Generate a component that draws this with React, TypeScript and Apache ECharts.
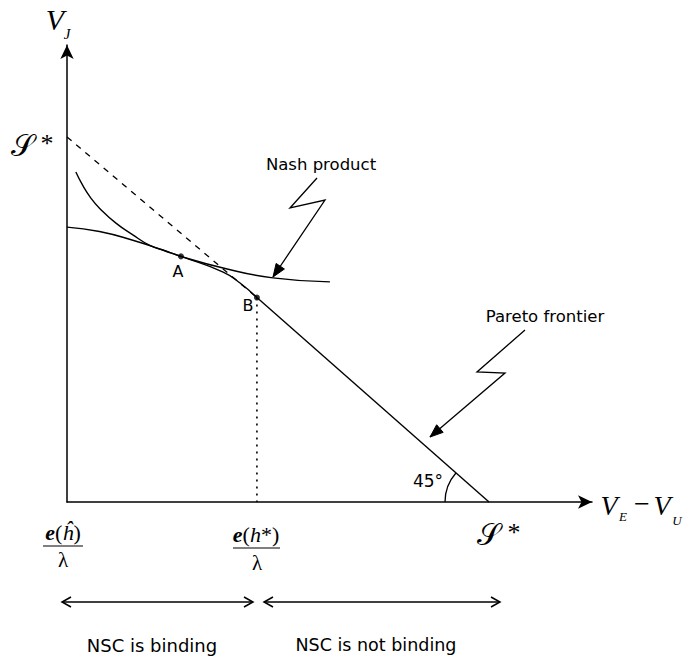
import React, { useEffect, useRef } from 'react';
import * as echarts from 'echarts';

// Pareto frontier (curved part, from the V_J axis to point B)
const paretoCurveX = [0, 7.7, 15.6, 23.5, 27.0, 37.0, 41.0, 45.0];
const paretoCurveY = [75.3, 74.1, 71.7, 68.7, 67.3, 63.0, 60.0, 56.0];
// Pareto frontier (45° straight part, from B to S*)
const paretoLineX = [45, 100];
const paretoLineY = [56, 0];
// Dashed extension from S* on V_J axis to B
const dashedX = [0, 45];
const dashedY = [100, 56];
// Nash product indifference curve
const nashX = [2.1, 3.7, 5.7, 7.7, 11.6, 15.6, 19.5, 23.5, 27.0, 37.0, 48.8, 62.3];
const nashY = [90.4, 86.8, 83.2, 80.5, 76.4, 73.2, 70.4, 68.7, 67.3, 64.1, 61.4, 60.3];
// Points
const pointNames = ['A', 'B'];
const pointX = [27.0, 45];
const pointY = [67.3, 56];
// Axis ranges
const xMax = 124.4;
const yMax = 125.2;

const SANS = '"DejaVu Sans", sans-serif';
const SERIF = '"Liberation Serif", "DejaVu Serif", serif';

const zip = (xs: number[], ys: number[]) => xs.map((x, i) => [x, ys[i]]);

function txt(text: string, x: number, y: number, font: string, align = 'center', extra: any = {}) {
  return {
    type: 'text',
    style: {
      text, x, y, font, fill: '#000',
      align, verticalAlign: 'middle', textAlign: align, textVerticalAlign: 'middle',
      ...extra,
    },
    silent: true,
  };
}

function filledHead(x1: number, y1: number, x2: number, y2: number, len = 13, half = 5) {
  const dx = x2 - x1, dy = y2 - y1;
  const d = Math.hypot(dx, dy);
  const ux = dx / d, uy = dy / d;
  const bx = x2 - ux * len, by = y2 - uy * len;
  const px = -uy * half, py = ux * half;
  return {
    type: 'polygon',
    shape: { points: [[x2, y2], [bx + px, by + py], [bx - px, by - py]] },
    style: { fill: '#000', stroke: '#000', lineWidth: 1 },
    silent: true,
  };
}

function openHead(x1: number, y1: number, x2: number, y2: number, len = 9, half = 5) {
  const dx = x2 - x1, dy = y2 - y1;
  const d = Math.hypot(dx, dy);
  const ux = dx / d, uy = dy / d;
  const bx = x2 - ux * len, by = y2 - uy * len;
  const px = -uy * half, py = ux * half;
  return {
    type: 'polyline',
    shape: { points: [[bx + px, by + py], [x2, y2], [bx - px, by - py]] },
    style: { stroke: '#000', lineWidth: 1.5, fill: 'none' },
    silent: true,
  };
}

function bolt(points: number[][]) {
  const n = points.length;
  const lineEnd = points[n - 1];
  const prev = points[n - 2];
  return [
    {
      type: 'polyline',
      shape: { points },
      style: { stroke: '#000', lineWidth: 1.3, fill: 'none' },
      silent: true,
    },
    filledHead(prev[0], prev[1], lineEnd[0], lineEnd[1]),
  ];
}

function doubleArrow(x1: number, x2: number, y: number) {
  return [
    {
      type: 'line',
      shape: { x1, y1: y, x2, y2: y },
      style: { stroke: '#000', lineWidth: 1.5 },
      silent: true,
    },
    openHead(x2, y, x1, y),
    openHead(x1, y, x2, y),
  ];
}

export default function App() {
  const ref = useRef<HTMLDivElement>(null);
  useEffect(() => {
    const chart = echarts.init(ref.current!, null, { renderer: 'svg' });
    const black = '#000';
    const lineSeries = (data: number[][], smooth: any, lineStyle: any) => ({
      type: 'line',
      data,
      showSymbol: false,
      symbol: 'none',
      smooth,
      lineStyle: { color: black, width: 1.4, ...lineStyle },
      silent: true,
    });
    const richFrac = {
      b: { font: `italic bold 22px ${SERIF}` },
      r: { font: `22px ${SERIF}` },
      i: { font: `italic 22px ${SERIF}` },
    };

    const option: any = {
      animation: false,
      backgroundColor: '#fff',
      grid: { left: 67, top: 45, right: 96, bottom: 162 },
      xAxis: {
        type: 'value', min: 0, max: xMax,
        axisLine: { onZero: false, lineStyle: { color: black, width: 1.5 }, symbol: ['none', 'arrow'], symbolSize: [10, 14] },
        axisTick: { show: false }, axisLabel: { show: false }, splitLine: { show: false },
      },
      yAxis: {
        type: 'value', min: 0, max: yMax,
        axisLine: { onZero: false, lineStyle: { color: black, width: 1.5 }, symbol: ['none', 'arrow'], symbolSize: [10, 14] },
        axisTick: { show: false }, axisLabel: { show: false }, splitLine: { show: false },
      },
      series: [
        lineSeries(zip(paretoCurveX, paretoCurveY), true, {}),
        lineSeries(zip(paretoLineX, paretoLineY), false, {}),
        lineSeries(zip(dashedX, dashedY), false, { width: 1.3, type: [6, 6] }),
        lineSeries([[pointX[1], pointY[1]], [pointX[1], 0]], false, { width: 1.6, type: [2, 5] }),
        lineSeries(zip(nashX, nashY), true, {}),
        {
          type: 'scatter',
          data: pointNames.map((n, i) => ({ name: n, value: [pointX[i], pointY[i]] })),
          symbol: 'circle',
          symbolSize: 6,
          itemStyle: { color: black },
          silent: true,
        },
      ],
      graphic: [
        // axis titles
        txt('V', 55, 19, `italic 30px ${SERIF}`),
        txt('J', 67, 34, `italic 15px ${SERIF}`),
        txt('V', 609, 505, `italic 28px ${SERIF}`),
        txt('E', 623, 516, `italic 13px ${SERIF}`),
        txt('\u2212', 642, 503, `28px ${SERIF}`),
        txt('V', 662, 505, `italic 28px ${SERIF}`),
        txt('U', 677, 520, `italic 13px ${SERIF}`),
        // S* labels
        txt('\uD835\uDCAE', 22, 145, `30px ${SERIF}`),
        txt('*', 47, 143, `26px ${SERIF}`),
        txt('\uD835\uDCAE', 488, 534, `30px ${SERIF}`),
        txt('*', 514, 532, `26px ${SERIF}`),
        // annotation texts
        txt('Nash product', 321, 164, `16.5px ${SANS}`),
        txt('Pareto frontier', 545, 316, `16.5px ${SANS}`),
        txt('A', 178, 271, `16px ${SANS}`),
        txt('B', 248, 305, `16px ${SANS}`),
        txt('45°', 428, 481, `17px ${SANS}`),
        // angle arc
        {
          type: 'arc',
          shape: { cx: 489, cy: 502, r: 44, startAngle: Math.PI, endAngle: Math.PI + 0.72, clockwise: true },
          style: { stroke: black, lineWidth: 1.3, fill: 'none' },
          silent: true,
        },
        // lightning arrows
        ...bolt([[317, 178], [290, 208], [325, 200], [273, 277]]),
        ...bolt([[525, 330], [477, 372], [505, 373], [430, 437]]),
        // fractions
        txt('{b|e}{r|(}{i|\u0125}{r|)}', 63, 532, `22px ${SERIF}`, 'center', { rich: richFrac }),
        { type: 'line', shape: { x1: 43, y1: 546, x2: 83, y2: 546 }, style: { stroke: black, lineWidth: 1.2 }, silent: true },
        txt('\u03BB', 63, 560, `21px ${SERIF}`),
        txt('{b|e}{r|(}{i|h}{r|*)}', 256, 534, `22px ${SERIF}`, 'center', { rich: richFrac }),
        { type: 'line', shape: { x1: 233, y1: 548, x2: 280, y2: 548 }, style: { stroke: black, lineWidth: 1.2 }, silent: true },
        txt('\u03BB', 257, 563, `21px ${SERIF}`),
        // bottom ranges
        ...doubleArrow(62, 253, 602),
        ...doubleArrow(264, 500, 602),
        txt('NSC is binding', 152, 645, `18px ${SANS}`),
        txt('NSC is not binding', 376, 645, `17.5px ${SANS}`),
      ],
    };
    chart.setOption(option);
    return () => chart.dispose();
  }, []);
  return (
    <div
      ref={ref}
      style={{ position: 'fixed', left: 0, top: 0, width: 688, height: 664, background: '#fff' }}
    />
  );
}
